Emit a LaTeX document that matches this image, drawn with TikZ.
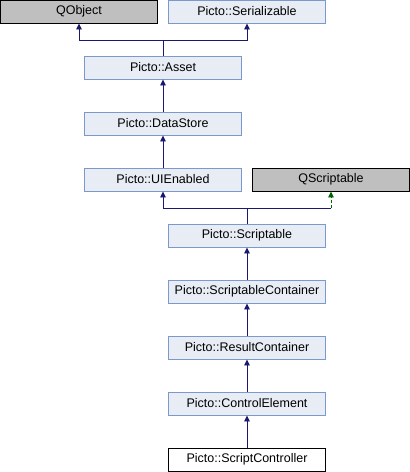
\documentclass[tikz,border=0pt]{standalone}
\usepackage{fontspec}
\setmainfont{Liberation Sans}
\usetikzlibrary{arrows.meta}
\definecolor{boxfill}{HTML}{E8ECF4}
\definecolor{boxline}{HTML}{7C98CC}
\definecolor{grayfill}{HTML}{BFBFBF}
\definecolor{edgeblue}{HTML}{191970}
\definecolor{edgegreen}{HTML}{006400}
\tikzset{
  cls/.style={draw=boxline, fill=boxfill, line width=0.9pt, minimum width=157pt, minimum height=23pt, inner sep=0pt, font=\fontsize{12.5}{14}\selectfont},
  ext/.style={cls, draw=black, fill=grayfill},
  self/.style={cls, draw=black, fill=white},
  inh/.style={draw=edgeblue, line width=0.9pt, -{Triangle[length=6pt,width=5.5pt]}},
  ln/.style={draw=edgeblue, line width=0.9pt},
  inhg/.style={draw=edgegreen, line width=0.9pt, dash pattern=on 3pt off 2pt, -{Triangle[length=6pt,width=5.5pt]}},
}
\begin{document}
\begin{tikzpicture}[x=1pt,y=-1pt]
\useasboundingbox (0,0) rectangle (410,472);
\node[ext]  (qobj)  at (79,11.5)  {QObject};
\node[cls]  (ser)   at (247,11.5) {Picto::Serializable};
\node[cls]  (asset) at (163,67.5) {Picto::Asset};
\node[cls]  (ds)    at (163,123.5) {Picto::DataStore};
\node[cls]  (ui)    at (163,179.5) {Picto::UIEnabled};
\node[ext]  (qs)    at (331,179.5) {QScriptable};
\node[cls]  (scr)   at (247,235.5) {Picto::Scriptable};
\node[cls]  (sc)    at (247,291.5) {Picto::ScriptableContainer};
\node[cls]  (rc)    at (247,347.5) {Picto::ResultContainer};
\node[cls]  (ce)    at (247,403.5) {Picto::ControlElement};
\node[self] (sctl)  at (247,459.5) {Picto::ScriptController};
\coordinate (j1) at (163,40);
\coordinate (j2) at (247,208);
\coordinate (j3) at (331,208);
\draw[inh] (asset.north) -- (j1) -| (qobj.south);
\draw[inh] (j1) -| (ser.south);
\draw[inh] (ds) -- (asset);
\draw[inh] (ui) -- (ds);
\draw[inh] (scr.north) -- (j2) -| (ui.south);
\draw[ln] (j2) -- (j3);
\draw[inhg] (j3) -- (qs.south);
\draw[inh] (sc) -- (scr);
\draw[inh] (rc) -- (sc);
\draw[inh] (ce) -- (rc);
\draw[inh] (sctl) -- (ce);
\end{tikzpicture}
\end{document}
